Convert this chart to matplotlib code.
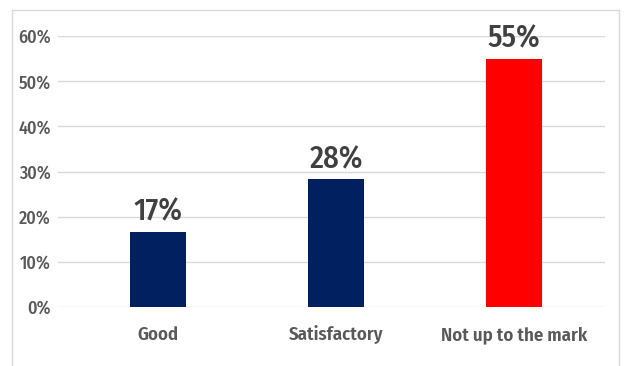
import matplotlib.pyplot as plt
from matplotlib.patches import Rectangle

categories = ["Good", "Satisfactory", "Not up to the mark"]
values = [16.7, 28.3, 55.0]
labels = ["17%", "28%", "55%"]
colors = ["#002060", "#002060", "#FF0000"]
yticks = [0, 10, 20, 30, 40, 50, 60]

plt.rcParams['font.family'] = ['Fira Sans Condensed', 'DejaVu Sans']

fig = plt.figure(figsize=(6.24, 3.66), dpi=100)
W, H = 624, 366
ax = fig.add_axes([58 / W, 1 - 307 / H, (605 - 58) / W, (307 - 36) / H])

# outer chart border (bottom edge is cut off in the original)
fig.patches.append(Rectangle((12 / W, -0.05), (619 - 12) / W, 1.05 - 10 / H,
                             transform=fig.transFigure, fill=False,
                             edgecolor="#d9d9d9", linewidth=1))

x = range(len(categories))
ax.bar(x, values, width=0.31, color=colors, zorder=3)
for i, v in enumerate(values):
    ax.text(i, v + 1.0, labels[i], ha='center', va='bottom', fontsize=22,
            fontweight='medium', color='#404040')

ax.set_xlim(-0.562, 2.511)
ax.set_ylim(0, 60)
ax.set_yticks(yticks)
ax.set_yticklabels([f"{t}%" for t in yticks], fontsize=13, fontweight='medium',
                   color='#595959')
ax.set_xticks(list(x))
ax.set_xticklabels(categories, fontsize=13.5, fontweight='semibold', color='#595959')
ax.tick_params(length=0)
ax.tick_params(axis='x', pad=14)
ax.tick_params(axis='y', pad=5)
ax.grid(axis='y', color='#d9d9d9', linewidth=1, zorder=0)
for s in ax.spines.values():
    s.set_visible(False)

fig.savefig("out.png", dpi=100)
